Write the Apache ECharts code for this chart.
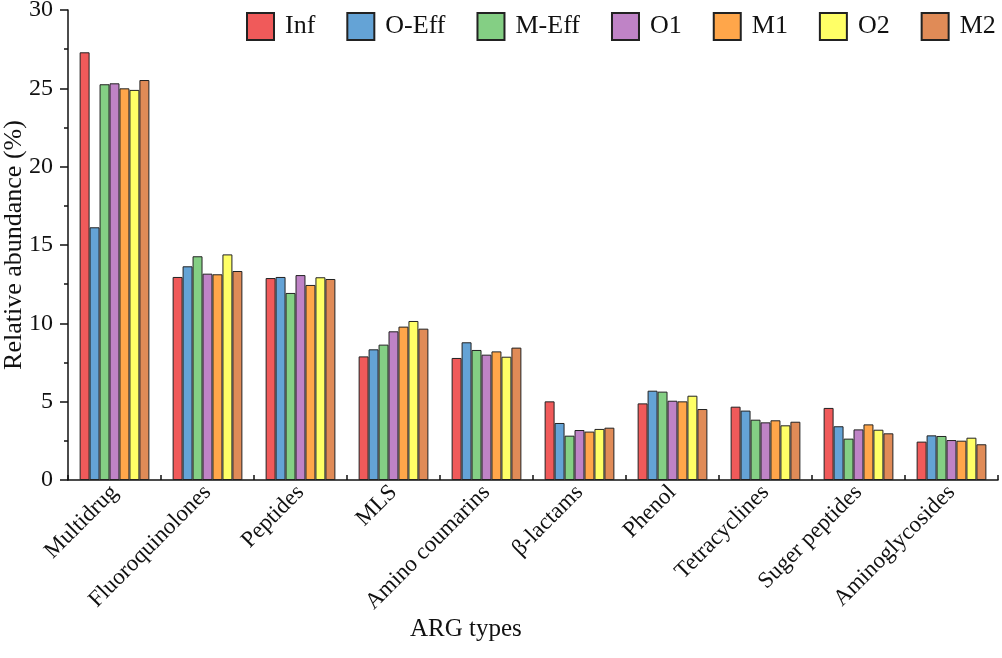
<!DOCTYPE html>
<html>
<head>
<meta charset="utf-8">
<script src="https://cdn.jsdelivr.net/npm/echarts@6/dist/echarts.min.js"></script>
<style>html,body{margin:0;padding:0;background:#fff}#c{width:1002px;height:658px}</style>
</head>
<body>
<div id="c"></div>
<script>
var categories = ['Multidrug','Fluoroquinolones','Peptides','MLS','Amino coumarins','β-lactams','Phenol','Tetracyclines','Suger peptides','Aminoglycosides'];
var seriesNames = ['Inf','O-Eff','M-Eff','O1','M1','O2','M2'];
var colors = ['#F05A5A','#64A3D6','#84CF84','#BF83C6','#FFA64A','#FFFF66','#E08B57'];
var Inf   = [27.3, 12.96, 12.89, 7.89, 7.79, 5.02, 4.89, 4.68, 4.60, 2.45];
var OEff  = [16.13, 13.64, 12.96, 8.34, 8.79, 3.64, 5.70, 4.43, 3.43, 2.85];
var MEff  = [25.26, 14.28, 11.94, 8.64, 8.30, 2.83, 5.64, 3.85, 2.64, 2.81];
var O1    = [25.32, 13.17, 13.08, 9.49, 8.00, 3.19, 5.06, 3.68, 3.23, 2.55];
var M1    = [25.00, 13.13, 12.45, 9.79, 8.21, 3.09, 5.02, 3.81, 3.55, 2.51];
var O2    = [24.90, 14.40, 12.94, 10.15, 7.87, 3.26, 5.38, 3.49, 3.21, 2.70];
var M2    = [25.53, 13.34, 12.83, 9.66, 8.45, 3.34, 4.53, 3.72, 2.98, 2.28];
var yTicks = [0, 5, 10, 15, 20, 25, 30];

var allData = [Inf, OEff, MEff, O1, M1, O2, M2];
var font = '"Liberation Serif","Times New Roman",serif';

var chart = echarts.init(document.getElementById('c'), null, {renderer: 'canvas'});
chart.setOption({
  animation: false,
  color: colors,
  textStyle: {fontFamily: font},
  grid: {left: 68, right: 4, top: 10, bottom: 178, containLabel: false, outerBoundsMode: 'none'},
  legend: {
    data: seriesNames,
    left: 246, top: 12, padding: 0, width: 756,
    itemWidth: 27, itemHeight: 27, itemGap: 31,
    icon: 'rect',
    textStyle: {fontFamily: font, fontSize: 26, color: '#111', padding: [0,0,0,6]}
  },
  xAxis: {
    type: 'category',
    data: categories,
    axisLine: {lineStyle: {color: '#111', width: 1.5}},
    axisTick: {show: true, inside: true, length: 5, lineStyle: {color: '#111', width: 1.5}},
    axisLabel: {rotate: 45, fontFamily: font, fontSize: 23, color: '#111', margin: 9, interval: 0},
    splitLine: {show: false}
  },
  yAxis: {
    type: 'value',
    min: 0, max: 30, interval: 5,
    name: 'Relative abundance (%)',
    nameLocation: 'middle',
    nameGap: 41,
    nameMoveOverlap: false,
    nameTextStyle: {fontFamily: font, fontSize: 26, color: '#111'},
    axisLine: {show: true, lineStyle: {color: '#111', width: 1.5}},
    axisTick: {show: true, inside: false, length: 8, lineStyle: {color: '#111', width: 1.5}},
    minorTick: {show: true, splitNumber: 2, length: 4, lineStyle: {color: '#111', width: 1.5}},
    axisLabel: {fontFamily: font, fontSize: 24, color: '#111', margin: 15,
      formatter: function(v){ return yTicks.indexOf(v) >= 0 ? String(v) : ''; }},
    splitLine: {show: false}
  },
  graphic: [{
    type: 'text', left: 410, top: 617,
    style: {text: 'ARG types', font: '25px ' + font, fill: '#111'}
  }],
  series: seriesNames.map(function(n, i){
    return {
      name: n, type: 'bar', data: allData[i],
      barGap: '0%', barCategoryGap: '25%',
      itemStyle: {color: colors[i], borderColor: '#222', borderWidth: 1}
    };
  })
});
</script>
</body>
</html>
